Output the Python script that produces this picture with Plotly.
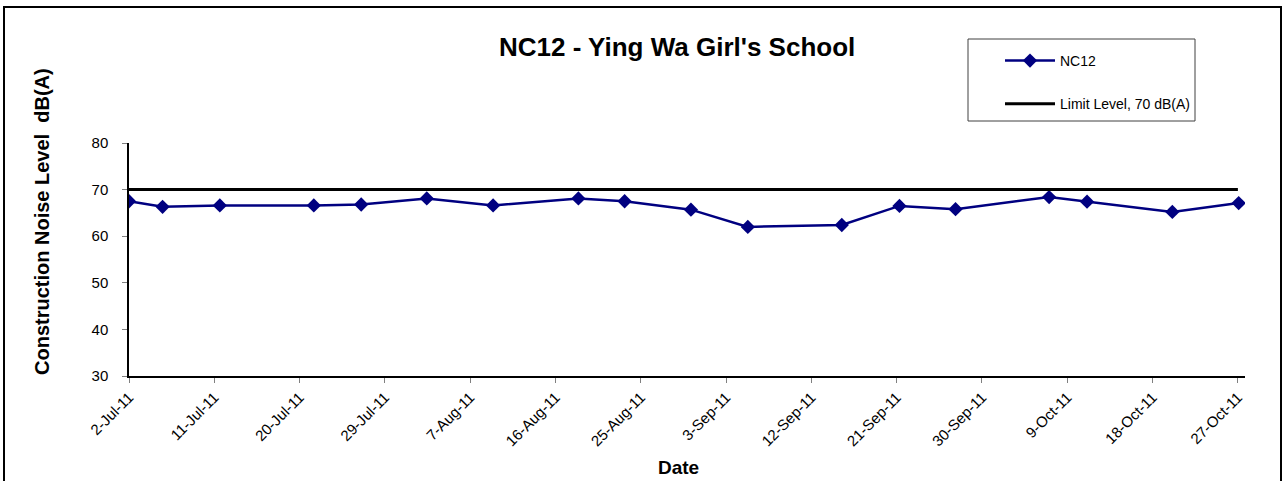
import plotly.graph_objects as go

# ---- data ----
dates = [
    "2011-07-02 00:00", "2011-07-05 13:00", "2011-07-11 14:00", "2011-07-21 12:00",
    "2011-07-26 12:00", "2011-08-02 10:00", "2011-08-09 10:00", "2011-08-18 10:00",
    "2011-08-23 07:00", "2011-08-30 07:00", "2011-09-05 07:00", "2011-09-15 05:00",
    "2011-09-21 07:00", "2011-09-27 05:00", "2011-10-07 02:00", "2011-10-11 02:00",
    "2011-10-20 02:00", "2011-10-27 02:00",
]
nc12 = [67.5, 66.3, 66.6, 66.6, 66.8, 68.1, 66.6, 68.1, 67.5, 65.7,
        62.0, 62.4, 66.5, 65.8, 68.4, 67.4, 65.2, 67.1]

limit_dates = ["2011-07-02", "2011-10-27"]
limit_vals = [70, 70]

tick_dates = ["2011-07-02", "2011-07-11", "2011-07-20", "2011-07-29", "2011-08-07",
              "2011-08-16", "2011-08-25", "2011-09-03", "2011-09-12", "2011-09-21",
              "2011-09-30", "2011-10-09", "2011-10-18", "2011-10-27"]
tick_labels = ["2-Jul-11", "11-Jul-11", "20-Jul-11", "29-Jul-11", "7-Aug-11",
               "16-Aug-11", "25-Aug-11", "3-Sep-11", "12-Sep-11", "21-Sep-11",
               "30-Sep-11", "9-Oct-11", "18-Oct-11", "27-Oct-11"]

y_ticks = [30, 40, 50, 60, 70, 80]

FONT = "Liberation Sans, Arial, sans-serif"

W, H = 1287, 481
L, R, T, B = 129, 1245, 143, 376   # plot area in pixels


def px(x):
    return (x - L) / (R - L)


def py(y):
    return (B - y) / (B - T)


fig = go.Figure()
fig.add_trace(go.Scatter(
    x=dates, y=nc12, mode="lines+markers", name="NC12",
    line=dict(color="#000080", width=2.5),
    marker=dict(symbol="diamond", size=11, color="#000080"),
    legendgroup="a",
))
fig.add_trace(go.Scatter(
    x=limit_dates, y=limit_vals, mode="lines", name="Limit Level, 70 dB(A)",
    line=dict(color="#000000", width=3),
    legendgroup="b",
))

fig.update_layout(
    width=W, height=H,
    margin=dict(l=L, r=W - R, t=T, b=H - B, pad=0, autoexpand=False),
    paper_bgcolor="white", plot_bgcolor="white",
    font=dict(family=FONT, color="black"),
    showlegend=True,
    legend=dict(
        x=px(1000), y=py(45), xanchor="left", yanchor="top",
        bgcolor="rgba(0,0,0,0)", borderwidth=0,
        font=dict(size=14, family=FONT),
        itemwidth=50, tracegroupgap=22, traceorder="grouped",
    ),
    xaxis=dict(
        type="date", automargin=False,
        range=["2011-07-02", "2011-10-27 18:00"],
        tickvals=tick_dates, ticktext=tick_labels,
        tickangle=-45, tickfont=dict(size=15, family=FONT),
        ticks="outside", ticklen=5, tickcolor="#808080",
        showline=True, linecolor="black", linewidth=1.5,
        showgrid=False, zeroline=False,
    ),
    yaxis=dict(
        range=[30, 80], tickvals=y_ticks, automargin=False,
        tickfont=dict(size=15, family=FONT),
        ticks="outside", ticklen=5, tickcolor="#808080",
        ticklabelstandoff=11,
        showline=True, linecolor="black", linewidth=1.5,
        showgrid=False, zeroline=False,
    ),
    annotations=[
        dict(text="<b>NC12 - Ying Wa Girl's School</b>", xref="paper", yref="paper",
             x=px(677), y=py(47), xanchor="center", yanchor="middle",
             showarrow=False, font=dict(size=26, family=FONT)),
        dict(text="<b>Construction Noise Level\u00a0\u00a0dB(A)</b>", xref="paper", yref="paper",
             x=px(42), y=py(222), xanchor="center", yanchor="middle", textangle=-90,
             showarrow=False, font=dict(size=20, family=FONT)),
        dict(text="<b>Date</b>", xref="paper", yref="paper",
             x=px(678), y=py(467), xanchor="center", yanchor="middle",
             showarrow=False, font=dict(size=19, family=FONT)),
    ],
    shapes=[
        # outer chart frame
        dict(type="rect", xref="paper", yref="paper",
             x0=px(4), x1=px(1281), y0=py(495), y1=py(7),
             line=dict(color="black", width=2), fillcolor="rgba(0,0,0,0)", layer="below"),
        # legend frame
        dict(type="rect", xref="paper", yref="paper",
             x0=px(968), x1=px(1195), y0=py(121), y1=py(39),
             line=dict(color="#404040", width=1), fillcolor="white", layer="below"),
    ],
)

fig.write_html("out.html", config={"displayModeBar": False},
               post_script="document.body.style.margin='0';")
